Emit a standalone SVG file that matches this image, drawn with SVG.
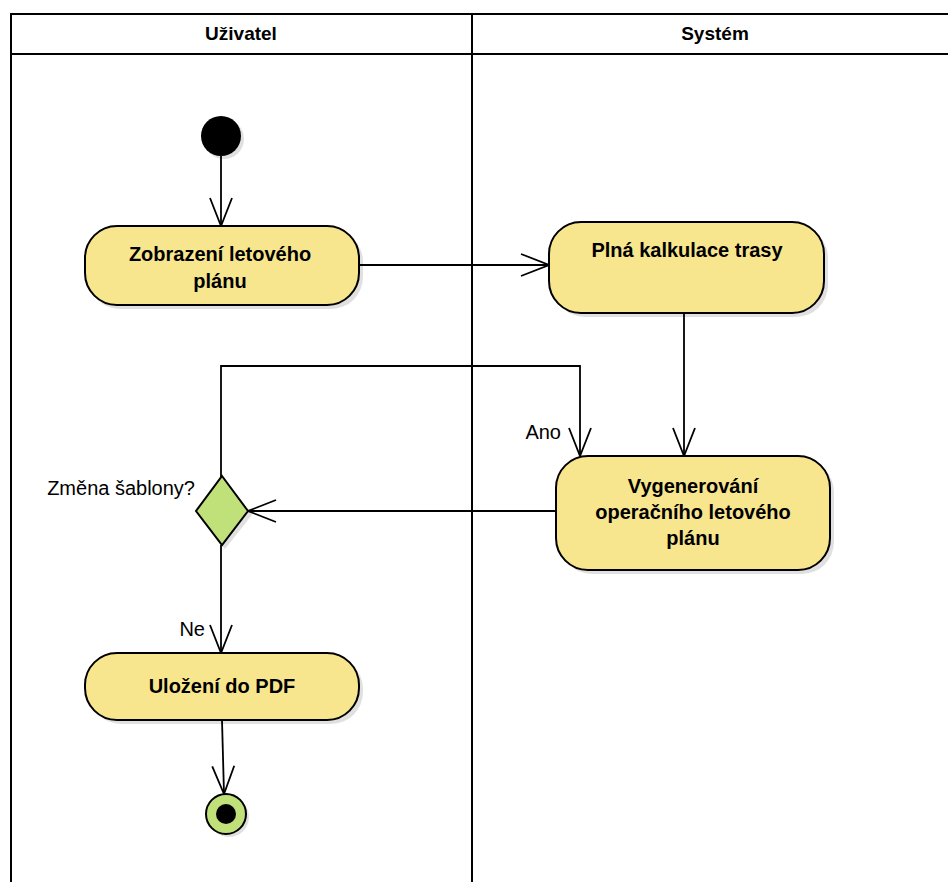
<svg xmlns="http://www.w3.org/2000/svg" width="948" height="882" viewBox="0 0 948 882">
<defs>
<style>
.lane{fill:none;stroke:#000;stroke-width:2}
.act{fill:#f8e68f;stroke:#000;stroke-width:2}
.sh{fill:#000;opacity:0.12}
.t{font-family:"Liberation Sans",Arial,sans-serif;font-weight:bold;font-size:20px;text-anchor:middle;fill:#000}
.h{font-family:"Liberation Sans",Arial,sans-serif;font-weight:bold;font-size:19px;text-anchor:middle;fill:#000}
.l{font-family:"Liberation Sans",Arial,sans-serif;font-size:20px;fill:#000;text-anchor:end}
.c{fill:none;stroke:#000;stroke-width:1.8}
</style>
<marker id="open" viewBox="0 0 32 26" refX="30" refY="13" markerWidth="32" markerHeight="26" markerUnits="userSpaceOnUse" orient="auto">
<path d="M2,2 L30,13 L2,24" fill="none" stroke="#000" stroke-width="1.8"/>
</marker>
</defs>
<rect width="948" height="882" fill="#fff"/>
<g id="lanes">
<path class="lane" d="M11,882 V14 H948 M11,54 H948 M472,14 V882"/>
<text class="h" x="241" y="40">Uživatel</text>
<text class="h" x="715" y="40">Systém</text>
</g>
<g id="connectors">
<path class="c" d="M221,156 V226" marker-end="url(#open)"/>
<path class="c" d="M359,265 H549" marker-end="url(#open)"/>
<path class="c" d="M684,313 V456" marker-end="url(#open)"/>
<path class="c" d="M556,511 H248" marker-end="url(#open)"/>
<path class="c" d="M221,477 V366 H580 V456" marker-end="url(#open)"/>
<path class="c" d="M221,545 V653" marker-end="url(#open)"/>
<path class="c" d="M222,720 L224,794" marker-end="url(#open)"/>
<text class="l" x="561" y="439">Ano</text>
<text class="l" x="205" y="636">Ne</text>
</g>
<g id="start">
<circle class="sh" cx="224" cy="139" r="20"/>
<circle cx="221" cy="136" r="20" fill="#000"/>
</g>
<g id="n1">
<rect class="sh" x="88" y="230" width="275" height="79" rx="32"/>
<rect class="act" x="85" y="226" width="274" height="79" rx="32"/>
<text class="t" x="220" y="261">Zobrazení letového</text>
<text class="t" x="220" y="288">plánu</text>
</g>
<g id="n2">
<rect class="sh" x="553" y="226" width="275" height="91" rx="32"/>
<rect class="act" x="549" y="222" width="275" height="91" rx="32"/>
<text class="t" x="687" y="257">Plná kalkulace trasy</text>
</g>
<g id="n3">
<rect class="sh" x="560" y="460" width="274" height="114" rx="32"/>
<rect class="act" x="556" y="456" width="274" height="114" rx="32"/>
<text class="t" x="693" y="493">Vygenerování</text>
<text class="t" x="693" y="519">operačního letového</text>
<text class="t" x="693" y="545">plánu</text>
</g>
<g id="decision">
<path class="sh" d="M225,480 L252,515 L225,549 L198,515 Z"/>
<path d="M222,476 L248,511 L222,545 L196,511 Z" fill="#c0e07a" stroke="#000" stroke-width="2"/>
<text class="l" x="195" y="495">Změna šablony?</text>
</g>
<g id="n4">
<rect class="sh" x="89" y="657" width="274" height="67" rx="32"/>
<rect class="act" x="85" y="653" width="274" height="67" rx="32"/>
<text class="t" x="222" y="693">Uložení do PDF</text>
</g>
<g id="end">
<circle class="sh" cx="229" cy="817" r="20"/>
<circle cx="226" cy="814" r="20" fill="#c0e07a" stroke="#000" stroke-width="2"/>
<circle cx="226" cy="814" r="10" fill="#000"/>
</g>
</svg>
